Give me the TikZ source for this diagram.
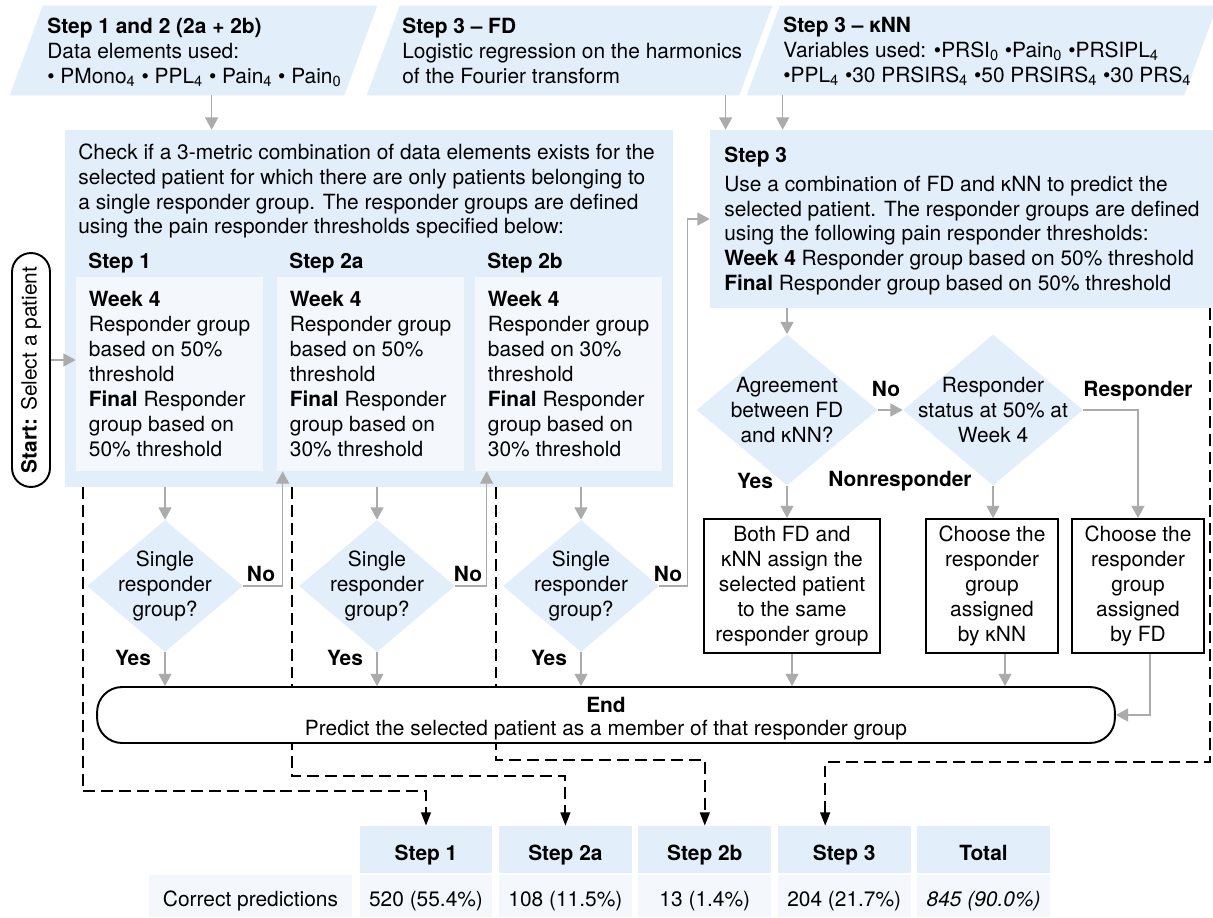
\documentclass[tikz,border=0pt]{standalone}
\usepackage{fontspec}
\setmainfont{TeX Gyre Heros}
\usetikzlibrary{arrows.meta,shapes.geometric}
\definecolor{flujoCaja}{HTML}{E2EFFA}
\definecolor{flujoSubcaja}{HTML}{F4F8FD}
\definecolor{flujoFlecha}{HTML}{ABABAB}
\newcommand{\letraFlujo}{\fontsize{11.9}{14.2}\selectfont}

\begin{document}
\begin{tikzpicture}[
  x=0.02cm, y=-0.02cm,
  every node/.style={font=\letraFlujo, inner sep=0pt},
  texto/.style={anchor=west, align=left},
  etiq/.style={font=\letraFlujo\bfseries},
  entrada/.style={minimum height=1.78cm},
  caja/.style={fill=flujoCaja},
  subcaja/.style={fill=flujoSubcaja, align=left, minimum width=3.74cm, minimum height=3.88cm},
  decision/.style={diamond, fill=flujoCaja, inner sep=0pt},
  resultado/.style={draw=black, line width=1.1pt, fill=white, align=center, minimum height=2.68cm},
  flecha/.style={draw=flujoFlecha, line width=0.8pt, -{Triangle[width=7.4pt,length=7pt]}},
  discont/.style={draw=black, line width=1.1pt, dash pattern=on 6.8pt off 3.4pt,
    -{Triangle[width=5.5pt,length=7.5pt]}},
  cabecera/.style={fill=flujoCaja, minimum width=2.66cm, minimum height=0.94cm,
    text height=12.5pt, text depth=0pt, font=\letraFlujo\bfseries},
  celda/.style={fill=flujoSubcaja, minimum width=2.66cm, minimum height=0.84cm,
    text height=12pt, text depth=0pt},
]
  \useasboundingbox (0,0) rectangle (1213,917);

  % Entradas de datos (paralelogramos)
  \node[entrada, minimum width=7.34cm] (in1) at (193.5,50.5) {};
  \node[entrada, minimum width=8.1cm] (in2) at (569.5,50.5) {};
  \node[entrada, minimum width=9.4cm] (in3) at (982,50.5) {};
  \foreach \n in {in1,in2,in3}
    \fill[flujoCaja] ([xshift=0.66cm]\n.north west) -- (\n.north east)
      -- ([xshift=-0.66cm]\n.south east) -- (\n.south west) -- cycle;
  \node[texto] (in1txt) at (47,52) {\textbf{Step 1 and 2 (2a + 2b)}\\Data elements used:\\• PMono\textsubscript{4} • PPL\textsubscript{4} • Pain\textsubscript{4} • Pain\textsubscript{0}};
  \node[texto] (in2txt) at (402,51) {\textbf{Step 3 – FD}\\Logistic regression on the harmonics\\of the Fourier transform};
  \node[texto] (in3txt) at (783,51) {\textbf{Step 3 – κNN}\\Variables used: •PRSI\textsubscript{0} •Pain\textsubscript{0} •PRSIPL\textsubscript{4}\\•PPL\textsubscript{4} •30 PRSIRS\textsubscript{4} •50 PRSIRS\textsubscript{4} •30 PRS\textsubscript{4}};

  % Caja de los pasos 1, 2a y 2b
  \node[caja, minimum width=12.16cm, minimum height=7.14cm] (chk) at (369,308.5) {};
  \node[texto] (chktxt) at (78,191) {Check if a 3-metric combination of data elements exists for the\\selected patient for which there are only patients belonging to\\a single responder group. The responder groups are defined\\using the pain responder thresholds specified below:};
  \foreach \i/\x/\a/\b/\nom in {1/169.5/50/50/Step 1, 2/370.5/50/30/Step 2a, 3/568.5/30/30/Step 2b} {
    \node[subcaja] (sub\i) at (\x,374) {\textbf{Week 4}\\Responder group\\based on \a\%\\threshold\\\textbf{Final} Responder\\group based on\\\b\% threshold};
    \node[etiq, anchor=west] (paso\i) at ({\x-81.5},263) {\nom};
  }

  % Inicio
  \node[draw, line width=1.1pt, fill=white, rounded corners=0.38cm, rotate=90,
    minimum width=4.68cm, minimum height=0.76cm] (inicio) at (31,370) {\textbf{Start:} Select a patient};
  \draw[flecha] ([yshift=0.2cm]inicio.south) -- ([yshift=0.2cm]inicio.south -| sub1.west);

  % Paso 3
  \node[caja, minimum width=10.06cm, minimum height=3.56cm] (s3) at (961.5,219) {};
  \node[texto] (s3txt) at (724,221) {\textbf{Step 3}\\[0.08cm]Use a combination of FD and κNN to predict the\\selected patient. The responder groups are defined\\using the following pain responder thresholds:\\\textbf{Week 4} Responder group based on 50\% threshold\\\textbf{Final} Responder group based on 50\% threshold};

  \draw[flecha] ([xshift=4.04cm]in1.south west) -- ([xshift=4.04cm]in1.south west |- chk.north);
  \draw[flecha] ([xshift=7.18cm]in2.south west) -- ([xshift=7.18cm]in2.south west |- s3.north);
  \draw[flecha] ([xshift=0.72cm]in3.south west) -- ([xshift=0.72cm]in3.south west |- s3.north);

  % Decisiones de los pasos 1, 2a y 2b
  \foreach \i/\x in {1/165, 2/377, 3/581} {
    \node[decision, minimum width=3.12cm, minimum height=2.64cm,
      label={[align=center]center:Single\\responder\\group?}] (d\i) at (\x,586) {};
    \draw[flecha] (d\i.north |- chk.south) -- (d\i.north);
  }
  \draw[flecha] (d1.east) -| ([xshift=0.12cm]sub2.south west);
  \draw[flecha] (d2.east) -| ([xshift=0.24cm]sub3.south west);
  \draw[flecha] (d3.east) -- ++(28,0) |- (s3.west);
  \node[etiq] (no1) at (261,574) {No};
  \node[etiq] (no2) at (468,574) {No};
  \node[etiq] (no3) at (668,574) {No};
  \node[etiq] (si1) at (133,658) {Yes};
  \node[etiq] (si2) at (345,658) {Yes};
  \node[etiq] (si3) at (549,658) {Yes};

  % Decisiones del paso 3
  \node[decision, minimum width=3.62cm, minimum height=3.02cm,
    label={[align=center]center:Agreement\\between FD\\and κNN?}] (da) at (787,410) {};
  \node[decision, minimum width=3.6cm, minimum height=3.02cm,
    label={[align=center]center:Responder\\status at 50\% at\\Week 4}] (db) at (993,410) {};
  \draw[flecha] (da.north |- s3.south) -- (da.north);
  \draw[flecha] (da.east) -- (db.west);
  \node[etiq] (noA) at (886,389) {No};
  \node[etiq] (siA) at (755,481) {Yes};
  \node[etiq] (nores) at (900,481) {Nonresponder};
  \node[etiq] (resp) at (1138,391) {Responder};

  \node[resultado, minimum width=3.52cm] (b1) at (792,586) {Both FD and\\κNN assign the\\selected patient\\to the same\\responder group};
  \node[resultado, minimum width=2.64cm] (b2) at (992,586) {Choose the\\responder\\group\\assigned\\by κNN};
  \node[resultado, minimum width=2.64cm] (b3) at (1138,586) {Choose the\\responder\\group\\assigned\\by FD};
  \draw[flecha] (da.south) -- (da.south |- b1.north);
  \draw[flecha] (db.south) -- (db.south |- b2.north);
  \draw[flecha] (db.east) -| (b3.north);

  % Tabla de resultados
  \node[celda, minimum width=4.06cm] (vlab) at (250.5,896) {Correct predictions};
  \foreach \i/\cab/\val in {1/Step 1/520 (55.4\%), 2/Step 2a/108 (11.5\%), 3/Step 2b/13 (1.4\%),
      4/Step 3/204 (21.7\%), 5/Total/\textit{845 (90.0\%)}} {
    \node[cabecera] (t\i) at ({426+139.4*(\i-1)},849.5) {\cab};
    \node[celda] (v\i) at ({426+139.4*(\i-1)},896) {\val};
  }

  % Lineas discontinuas hacia la tabla
  \draw[discont] ([xshift=0.36cm]chk.south west) -- ++(0,304) -| (t1.north);
  \draw[discont] ([xshift=4.54cm]chk.south west) -- ++(0,289) -| (t2.north);
  \draw[discont] ([xshift=8.62cm]chk.south west) -- ++(0,273) -| (t3.north);
  \draw[discont] ([xshift=-0.06cm]s3.south east) -- ++(0,454) -| ([xshift=-0.38cm]t4.north);

  % Fin
  \node[draw, line width=1.1pt, fill=white, rounded corners=0.5cm, minimum width=20.36cm,
    minimum height=1.12cm, align=center] (fin) at (606,715) {\rule{0pt}{12.5pt}\textbf{End}\\[-0.04cm]Predict the selected patient as a member of that responder group};
  \foreach \i in {1,2,3}
    \draw[flecha] (d\i.south) -- (d\i.south |- fin.north);
  \draw[flecha] (b1.south) -- (b1.south |- fin.north);
  \draw[flecha] ([xshift=0.26cm]b2.south) -- ([xshift=0.26cm]b2.south |- fin.north);
  \draw[flecha] ([xshift=0.24cm]b3.south) |- (fin.east);
\end{tikzpicture}
\end{document}
